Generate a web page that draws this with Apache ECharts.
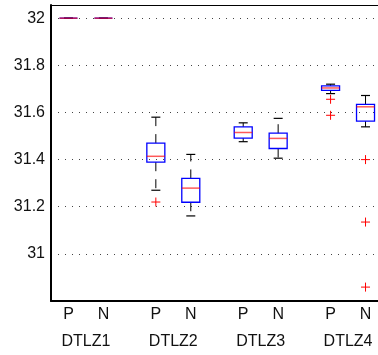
<!DOCTYPE html>
<html>
<head>
<meta charset="utf-8">
<script src="https://cdn.jsdelivr.net/npm/echarts@6/dist/echarts.min.js"></script>
<style>html,body{margin:0;padding:0;background:#fff}#chart{width:378px;height:355px}</style>
</head>
<body>
<div id="chart"></div>
<script>
// ---- data ----
const groups = ['DTLZ1', 'DTLZ2', 'DTLZ3', 'DTLZ4'];
const groupPositions = [1.5, 4, 6.5, 9];
const methods = ['P', 'N', 'P', 'N', 'P', 'N', 'P', 'N'];
const positions = [1, 2, 3.5, 4.5, 6, 7, 8.5, 9.5];
const lowerWhisker = [32, 32, 31.27, 31.161, 31.476, 31.406, 31.68, 31.539];
const q1Values     = [32, 32, 31.389, 31.219, 31.491, 31.447, 31.694, 31.563];
const medianValues = [32, 32, 31.414, 31.279, 31.515, 31.49, 31.704, 31.624];
const q3Values     = [32, 32, 31.47, 31.32, 31.539, 31.512, 31.713, 31.634];
const upperWhisker = [32, 32, 31.58, 31.422, 31.556, 31.575, 31.72, 31.672];
const outlierPositions = [3.5, 8.5, 8.5, 9.5, 9.5, 9.5];
const outlierValues    = [31.22, 31.656, 31.588, 31.40, 31.135, 30.859];
const yTickLabels = ['31', '31.2', '31.4', '31.6', '31.8', '32'];

// ---- build ----
const boxData = positions.map((p, i) => [p, lowerWhisker[i], q1Values[i], medianValues[i], q3Values[i], upperWhisker[i]]);
const outlierData = outlierPositions.map((p, i) => [p, outlierValues[i]]);

const chart = echarts.init(document.getElementById('chart'));
const FONT = '"Liberation Sans", Arial, sans-serif';
const HALF = 9, CAP = 4.5;
const X_MIN = 0.5, X_MAX = 9.857;

function renderBox(params, api) {
  const x = api.value(0);
  const pLow = api.coord([x, api.value(1)]);
  const pQ1 = api.coord([x, api.value(2)]);
  const pMed = api.coord([x, api.value(3)]);
  const pQ3 = api.coord([x, api.value(4)]);
  const pUp = api.coord([x, api.value(5)]);
  const cx = pQ1[0];
  const dash = { stroke: '#000', lineWidth: 1, lineDash: [9, 8] };
  const solid = { stroke: '#000', lineWidth: 1.2 };
  return {
    type: 'group',
    children: [
      { type: 'line', shape: { x1: cx, y1: pQ3[1], x2: cx, y2: pUp[1] }, style: dash },
      { type: 'line', shape: { x1: cx, y1: pQ1[1], x2: cx, y2: pLow[1] }, style: dash },
      { type: 'line', shape: { x1: cx - CAP, y1: pUp[1], x2: cx + CAP, y2: pUp[1] }, style: solid },
      { type: 'line', shape: { x1: cx - CAP, y1: pLow[1], x2: cx + CAP, y2: pLow[1] }, style: solid },
      { type: 'rect', shape: { x: cx - HALF, y: pQ3[1], width: 2 * HALF, height: pQ1[1] - pQ3[1] },
        style: { fill: 'none', stroke: '#0000ff', lineWidth: 1.3 } },
      { type: 'line', shape: { x1: cx - HALF, y1: pMed[1], x2: cx + HALF, y2: pMed[1] },
        style: { stroke: '#ff0000', lineWidth: 1.5, opacity: 0.65 } }
    ]
  };
}

function renderOutlier(params, api) {
  const p = api.coord([api.value(0), api.value(1)]);
  const s = 4.5;
  return {
    type: 'group',
    children: [
      { type: 'line', shape: { x1: p[0] - s, y1: p[1], x2: p[0] + s, y2: p[1] }, style: { stroke: '#ff0000', lineWidth: 1 } },
      { type: 'line', shape: { x1: p[0], y1: p[1] - s, x2: p[0], y2: p[1] + s }, style: { stroke: '#ff0000', lineWidth: 1 } }
    ]
  };
}

chart.setOption({
  animation: false,
  grid: { left: 51, top: 5, right: 0, bottom: 53, containLabel: false },
  xAxis: [{
    type: 'value', min: X_MIN, max: X_MAX, interval: 0.5,
    splitLine: { show: false },
    axisTick: { show: false },
    axisLine: { lineStyle: { color: '#000', width: 2 } },
    axisLabel: {
      margin: 0, color: '#111', fontFamily: FONT, fontSize: 16, lineHeight: 27,
      showMinLabel: true, showMaxLabel: false,
      formatter: function (v) {
        const i = positions.findIndex(p => Math.abs(p - v) < 1e-6);
        if (i >= 0) return methods[i];
        const g = groupPositions.findIndex(p => Math.abs(p - v) < 1e-6);
        if (g >= 0) return '\n' + groups[g];
        return '';
      }
    }
  }, {
    type: 'value', position: 'top', min: X_MIN, max: X_MAX,
    splitLine: { show: false }, axisTick: { show: false }, axisLabel: { show: false },
    axisLine: { show: true, lineStyle: { color: '#000', width: 1.2 } }
  }],
  yAxis: {
    type: 'value', min: 30.8, max: 32.056, interval: 0.2,
    axisTick: { show: false },
    axisLine: { show: true, lineStyle: { color: '#000', width: 2 } },
    splitLine: { show: true, lineStyle: { color: '#444', width: 1, type: [1, 6] } },
    axisLabel: {
      margin: 6, color: '#111', fontFamily: FONT, fontSize: 16,
      formatter: function (v) {
        const s = String(Number(v.toFixed(1)));
        return yTickLabels.indexOf(s) >= 0 && Math.abs(v - Number(s)) < 1e-6 ? s : '';
      }
    }
  },
  series: [
    { type: 'custom', renderItem: renderBox, data: boxData, encode: { x: 0, y: [1, 2, 3, 4, 5] }, z: 3 },
    { type: 'custom', renderItem: renderOutlier, data: outlierData, encode: { x: 0, y: 1 }, z: 4 }
  ]
});
</script>
</body>
</html>
